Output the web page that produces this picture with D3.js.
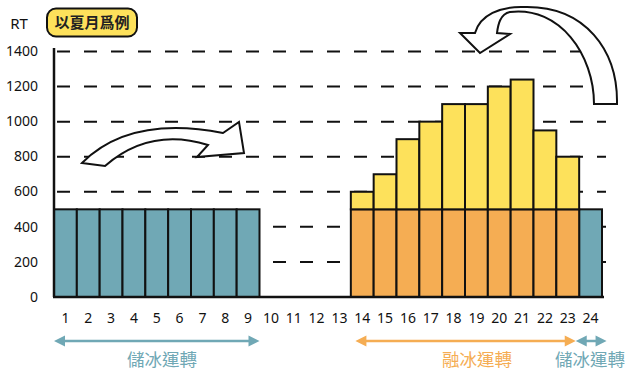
<!DOCTYPE html>
<html lang="zh-Hant">
<head>
<meta charset="UTF-8">
<title>以夏月爲例</title>
<script src="https://d3js.org/d3.v7.min.js"></script>
<style>
  body { margin: 0; background: #fff; }
  svg { display: block; font-family: "Noto Sans", "Noto Sans CJK TC", sans-serif; }
  .bar { stroke: #111; stroke-width: 2px; }
  .grid { stroke: #111; stroke-width: 2px; stroke-dasharray: 13 14; }
</style>
</head>
<body>
<svg width="629" height="373"></svg>
<script>
// 時段 (1~24 時)
const hours = ["1","2","3","4","5","6","7","8","9","10","11","12","13","14","15","16","17","18","19","20","21","22","23","24"];
// 儲冰運轉 (RT)
const storage = [500,500,500,500,500,500,500,500,500,0,0,0,0,0,0,0,0,0,0,0,0,0,0,500];
// 融冰運轉 (RT)
const melting = [0,0,0,0,0,0,0,0,0,0,0,0,0,500,500,500,500,500,500,500,500,500,500,0];
// 總負載 (RT)
const load = [0,0,0,0,0,0,0,0,0,0,0,0,0,600,700,900,1000,1100,1100,1200,1240,950,800,0];
const yTicks = [0,200,400,600,800,1000,1200,1400];

const teal = "#70a8b5", orange = "#f5ad53", yellow = "#fde15b";

const svg = d3.select("svg");
const x = d3.scaleBand().domain(hours).range([54, 602]).padding(0);
const y = d3.scaleLinear().domain([0, 1400]).range([297, 51.5]);

// 虛線格線
svg.append("g").selectAll("line")
  .data(yTicks.filter(d => d > 0))
  .enter().append("line")
  .attr("class", "grid")
  .attr("x1", 57).attr("x2", 606)
  .attr("y1", d => y(d)).attr("y2", d => y(d));

// 長條
const rows = hours.map((h, i) => ({ h, s: storage[i], m: melting[i], l: load[i] }));
const g = svg.append("g");
g.selectAll(".s").data(rows.filter(d => d.s > 0)).enter().append("rect")
  .attr("class", "bar").attr("fill", teal)
  .attr("x", d => x(d.h)).attr("width", x.bandwidth())
  .attr("y", d => y(d.s)).attr("height", d => y(0) - y(d.s));
g.selectAll(".m").data(rows.filter(d => d.m > 0)).enter().append("rect")
  .attr("class", "bar").attr("fill", orange)
  .attr("x", d => x(d.h)).attr("width", x.bandwidth())
  .attr("y", d => y(d.m)).attr("height", d => y(0) - y(d.m));
g.selectAll(".l").data(rows.filter(d => d.l > d.m && d.m > 0)).enter().append("rect")
  .attr("class", "bar").attr("fill", yellow)
  .attr("x", d => x(d.h)).attr("width", x.bandwidth())
  .attr("y", d => y(d.l)).attr("height", d => y(d.m) - y(d.l));

// 座標軸
svg.append("line").attr("x1", 54).attr("x2", 54).attr("y1", 48).attr("y2", y(0))
  .attr("stroke", "#111").attr("stroke-width", 2.5);
svg.append("line").attr("x1", 53).attr("x2", 604).attr("y1", y(0)).attr("y2", y(0))
  .attr("stroke", "#111").attr("stroke-width", 2.5);

const yAxis = svg.append("g").attr("transform", "translate(38,0)")
  .call(d3.axisLeft(y).tickValues(yTicks).tickFormat(d3.format("d")).tickSize(0).tickPadding(0));
yAxis.select(".domain").remove();
yAxis.selectAll("text").attr("font-size", 14).attr("fill", "#111")
  .attr("font-family", "'Noto Sans', sans-serif").attr("dy", "0.3em");

const xAxis = svg.append("g").attr("transform", "translate(0,312)")
  .call(d3.axisBottom(x).tickSize(0).tickPadding(0));
xAxis.select(".domain").remove();
xAxis.selectAll("text").attr("font-size", 14).attr("fill", "#111")
  .attr("font-family", "'Noto Sans', sans-serif").attr("dy", "0.75em");

// 標題
svg.append("text").attr("x", 19).attr("y", 28.5).attr("text-anchor", "middle")
  .attr("font-size", 15).attr("fill", "#111").text("RT");
svg.append("rect").attr("x", 47).attr("y", 8.5).attr("width", 90).attr("height", 28)
  .attr("rx", 9).attr("fill", yellow).attr("stroke", "#111").attr("stroke-width", 2);
svg.append("text").attr("x", 92).attr("y", 28).attr("text-anchor", "middle")
  .attr("font-size", 15).attr("font-weight", 700).attr("fill", "#222")
  .attr("font-family", "'Noto Sans CJK TC', sans-serif").text("以夏月爲例");

// 下方雙向箭頭
const ranges = [
  { a: 0, b: 9, c: teal, label: "儲冰運轉", tx: 162 },
  { a: 13.2, b: 22.85, c: orange, label: "融冰運轉", tx: 477 },
  { a: 22.85, b: 24.2, c: teal, label: "儲冰運轉", tx: 590 }
];
const xh = d3.scaleLinear().domain([0, 24]).range([54, 602]);
ranges.forEach(r => {
  const x0 = xh(r.a), x1 = xh(r.b), yy = 341, hl = 11, hw = 5.5;
  svg.append("line").attr("x1", x0 + 4).attr("x2", x1 - 4).attr("y1", yy).attr("y2", yy)
    .attr("stroke", r.c).attr("stroke-width", 2.5);
  svg.append("path").attr("fill", r.c)
    .attr("d", `M${x0},${yy} L${x0 + hl},${yy - hw} L${x0 + hl},${yy + hw} Z M${x1},${yy} L${x1 - hl},${yy - hw} L${x1 - hl},${yy + hw} Z`);
  svg.append("text").attr("x", r.tx).attr("y", 366).attr("text-anchor", "middle")
    .attr("font-size", 17.5).attr("fill", r.c)
    .attr("font-family", "'Noto Sans CJK TC', sans-serif").text(r.label);
});

// 彎曲箭頭 (裝飾)
svg.append("path")
  .attr("fill", "#fff").attr("stroke", "#111").attr("stroke-width", 2).attr("stroke-linejoin", "miter")
  .attr("d", "M82,163 Q130,115 223,133 L239,122 L244,153 L197,157 L208,145 Q150,127 105,166 Z");
svg.append("path")
  .attr("fill", "#fff").attr("stroke", "#111").attr("stroke-width", 2)
  .attr("d", "M594,104 C594,55 560,6 510,12 C500,14 498,25 497,33 L510,34 L480,53 L460,33 L475,33 C480,15 500,6 525,7 C585,6 618,50 617,104 Z");
</script>
</body>
</html>
